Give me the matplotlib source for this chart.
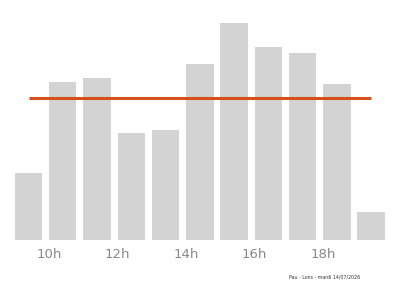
import matplotlib
matplotlib.use("Agg")
import matplotlib.pyplot as plt
import numpy as np

hours = [9, 10, 11, 12, 13, 14, 15, 16, 17, 18, 19]
values = [67, 158, 162, 107, 110, 176, 217, 193, 187, 156, 28]
tick_hours = [10, 12, 14, 16, 18]
tick_labels = ["10h", "12h", "14h", "16h", "18h"]
footer = "Pau - Lons - mardi 14/07/2026"

BAR_W = 0.8
mean_val = np.mean(values)

fig = plt.figure(figsize=(4, 2.86), dpi=100)
ax = fig.add_axes([0.037, 0.161, 0.925, 0.76])

ax.bar(hours, values, width=BAR_W, align="edge", color="#d3d3d3")
ax.hlines(mean_val, hours[0] + BAR_W / 2, hours[-1] + BAR_W / 2,
          color="#d4501c", linewidth=2.2)

ax.set_xlim(hours[0], hours[-1] + BAR_W)
ax.set_ylim(0, max(values))
ax.set_xticks(tick_hours)
ax.set_xticklabels(tick_labels)
ax.tick_params(axis="x", length=0, labelsize=9.5, labelcolor="#888888", pad=6)
ax.set_yticks([])
for s in ax.spines.values():
    s.set_visible(False)

fig.text(0.9, 0.025, footer, fontsize=3.4, color="#333333", ha="right")

fig.savefig("out.png", dpi=100)
